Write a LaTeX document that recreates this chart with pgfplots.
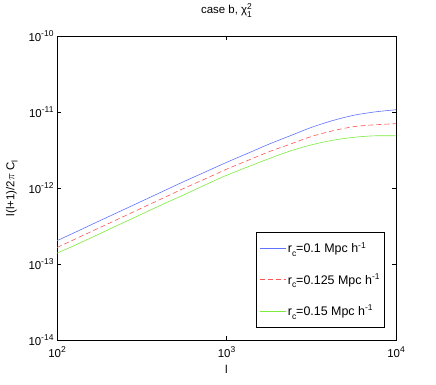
\documentclass[border=0pt]{standalone}
\usepackage{fontspec}
\setmainfont{Liberation Sans}
\usepackage{pgfplots}
\usepackage{pgfplotstable}
\pgfplotsset{compat=1.18}
\definecolor{cBlue}{RGB}{95,115,255}
\definecolor{cRed}{RGB}{255,85,85}
\definecolor{cGreen}{RGB}{125,235,60}
\newcommand{\upr}[1]{\raisebox{0.75ex}{\fontsize{8.5}{9}\selectfont #1}}
\newcommand{\dnr}[1]{\raisebox{-0.55ex}{\fontsize{8.5}{9}\selectfont #1}}

% l, rc=0.1, rc=0.125, rc=0.15
\pgfplotstableread{
l       b        r        g
100     2.04e-13 1.66e-13 1.40e-13
133.35  2.75e-13 2.24e-13 1.86e-13
177.83  3.72e-13 3.02e-13 2.51e-13
237.14  5.01e-13 4.07e-13 3.39e-13
316.23  6.76e-13 5.50e-13 4.57e-13
421.70  9.12e-13 7.41e-13 6.17e-13
562.34  1.23e-12 1.00e-12 8.22e-13
749.89  1.64e-12 1.33e-12 1.11e-12
1000    2.19e-12 1.78e-12 1.48e-12
1333.5  2.88e-12 2.32e-12 1.91e-12
1778.3  3.80e-12 3.02e-12 2.45e-12
2371.4  4.90e-12 3.80e-12 3.09e-12
3162.3  6.31e-12 4.79e-12 3.72e-12
4217.0  7.76e-12 5.69e-12 4.27e-12
5623.4  9.12e-12 6.46e-12 4.68e-12
7498.9  1.01e-11 6.84e-12 4.90e-12
10000   1.08e-11 7.08e-12 4.90e-12
}\cltable

\begin{document}
\begin{tikzpicture}
\begin{loglogaxis}[
  scale only axis,
  width=339bp, height=304bp,
  xmin=100, xmax=10000, ymin=1e-14, ymax=1e-10,
  log basis x=10, log basis y=10,
  tick align=inside,
  major tick length=4bp, minor tick length=2bp,
  tick style={black, line width=0.4pt},
  axis line style={black, line width=0.5pt},
  tick label style={font=\fontsize{11.5}{13}\selectfont},
  xtick={100,1000,10000},
  ytick={1e-14,1e-13,1e-12,1e-11,1e-10},
  xticklabel={10\upr{\pgfmathtruncatemacro\e{round(\tick)}\e}},
  yticklabel={10\upr{\pgfmathtruncatemacro\e{round(\tick)}\e}},
  xticklabel style={yshift=-3bp},
  title={case b, χ\rlap{\upr{2}}\dnr{1}},
  title style={at={(axis description cs:0.5,1.066)}, anchor=center,
    font=\fontsize{11.5}{13}\selectfont},
  xlabel={l},
  xlabel style={at={(axis description cs:0.5,-0.095)}, anchor=center,
    font=\fontsize{11.5}{13}\selectfont},
  ylabel={l(l+1)/2$\pi$ C\dnr{l}},
  ylabel style={at={(axis description cs:-0.133,0.5)}, anchor=center,
    font=\fontsize{11.5}{13}\selectfont},
  legend style={at={(axis description cs:0.967,0.043)}, anchor=south east,
    draw=black, line width=0.5pt, row sep=15bp,
    inner xsep=3bp, inner ysep=8bp,
    font=\fontsize{12.5}{14}\selectfont},
  legend cell align=left,
  legend image code/.code={\draw[#1, line width=0.6pt] (0bp,0bp) -- (26bp,0bp);},
]
\addplot[cBlue, line width=0.6pt, smooth] table[x=l, y=b] {\cltable};
\addlegendentry{r\dnr{c}=0.1 Mpc h\upr{-1}}
\addplot[cRed, line width=0.6pt, smooth, dash pattern=on 5bp off 3bp] table[x=l, y=r] {\cltable};
\addlegendentry{r\dnr{c}=0.125 Mpc h\upr{-1}}
\addplot[cGreen, line width=0.6pt, smooth] table[x=l, y=g] {\cltable};
\addlegendentry{r\dnr{c}=0.15 Mpc h\upr{-1}}
\end{loglogaxis}
\path (current axis.south west) ++(-57bp,-44bp) rectangle ([shift={(40bp,34bp)}]current axis.north east);
\end{tikzpicture}
\end{document}
